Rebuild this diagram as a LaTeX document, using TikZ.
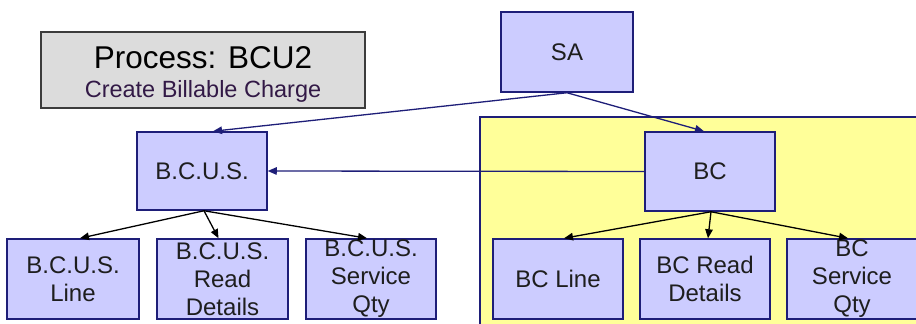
\documentclass[tikz,border=0pt]{standalone}
\usepackage{fontspec}
\setmainfont{Liberation Sans}
\usetikzlibrary{arrows.meta}
\definecolor{lav}{RGB}{204,204,255}
\definecolor{navyb}{RGB}{30,30,120}
\definecolor{yel}{RGB}{255,255,153}
\definecolor{grayf}{RGB}{220,220,220}
\definecolor{grayd}{RGB}{60,60,60}
\definecolor{subc}{RGB}{50,25,70}
\definecolor{txt}{RGB}{30,30,30}
\tikzset{
  ent/.style={draw=navyb, fill=lav, line width=1.5pt, minimum width=130pt, minimum height=80pt,
    inner sep=0pt, align=center, text=txt, font=\fontsize{24}{28}\selectfont},
  navyarr/.style={draw=navyb, line width=1.3pt, -{Triangle[length=9pt,width=7.5pt]}},
  blackarr/.style={draw=black, line width=1.3pt, -{Triangle[length=9pt,width=7.5pt]}},
}
\begin{document}
\begin{tikzpicture}[x=1pt,y=-1pt]
\useasboundingbox (0,0) rectangle (916,324);
\clip (0,0) rectangle (916,324);
\fill[white] (0,0) rectangle (916,324);
% yellow region
\fill[yel] (480,117) rectangle (940,340);
\draw[navyb, line width=1.5pt] (480,340) -- (480,117) -- (940,117);
% title box
\node[draw=grayd, fill=grayf, line width=1.5pt, minimum width=324pt, minimum height=76pt, inner sep=0pt] (title) at (203,70) {};
\node[font=\fontsize{31.5}{34}\selectfont, text=black, inner sep=0pt] (t1) at (203,58) {Process: BCU2};
\node[font=\fontsize{23.5}{28}\selectfont, text=subc, inner sep=0pt] (t2) at (203,91) {Create Billable Charge};
% entity boxes
\node[ent, minimum width=132pt] (sa) at (567,52) {SA};
\node[ent, minimum height=78pt] (bcus) at (202,171) {B.C.U.S.};
\node[ent, minimum height=79pt] (bc) at (710,171.5) {BC};
\node[ent, minimum width=132pt] (l1) at (73,279) {B.C.U.S.\\Line};
\node[ent, minimum width=131pt] (l2) at (222.5,279) {B.C.U.S.\\Read\\Details};
\node[ent] (l3) at (371,279) {B.C.U.S.\\Service\\Qty};
\node[ent] (r1) at (558,279) {BC Line};
\node[ent] (r2) at (705,279) {BC Read\\Details};
\node[ent] (r3) at (852,279) {BC\\Service\\Qty};
% connectors
\draw[navyarr] (sa.south) -- ([xshift=11pt]bcus.north);
\draw[navyarr] (sa.south) -- ([xshift=-6pt]bc.north);
\draw[navyarr] (bc.west) -- (bcus.east);
\coordinate (bcusb) at ([xshift=2pt]bcus.south);
\draw[blackarr] (bcusb) -- ([xshift=7pt]l1.north);
\draw[blackarr] (bcusb) -- ([xshift=-4pt]l2.north);
\draw[blackarr] (bcusb) -- ([xshift=-4pt]l3.north);
\coordinate (bcb) at ([xshift=1pt]bc.south);
\draw[blackarr] (bcb) -- ([xshift=6pt]r1.north);
\draw[blackarr] (bcb) -- ([xshift=3pt]r2.north);
\draw[blackarr] (bcb) -- ([xshift=-4pt]r3.north);
\end{tikzpicture}
\end{document}
